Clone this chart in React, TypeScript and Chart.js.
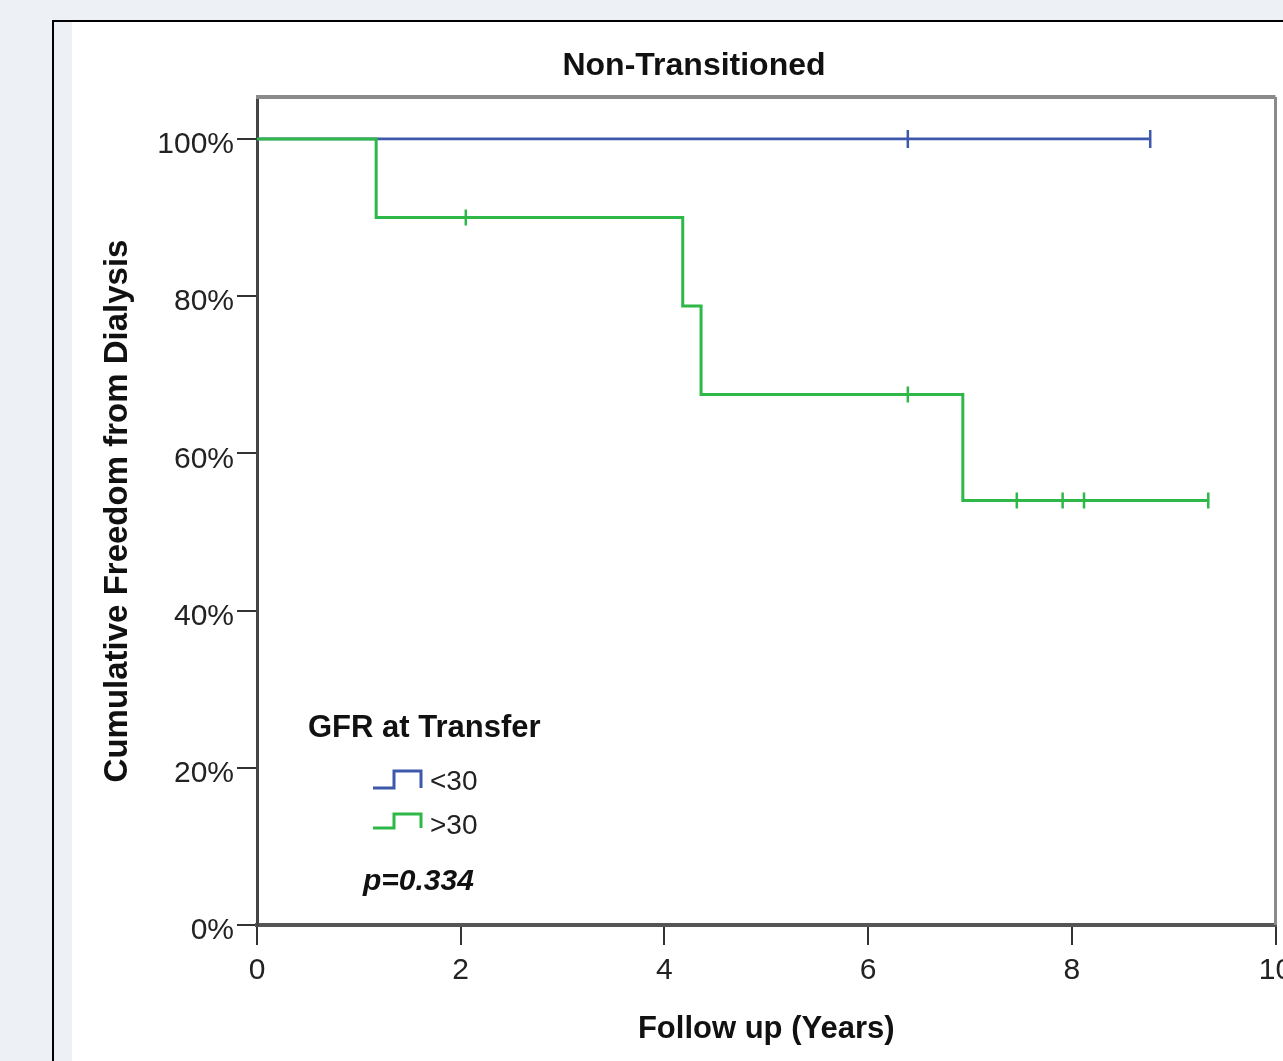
import React, { useEffect, useRef } from "react";
import { Chart, registerables } from "chart.js";

Chart.register(...registerables);

// ---- Data ----
const chartTitle = "Non-Transitioned";
const xAxisTitle = "Follow up (Years)";
const yAxisTitle = "Cumulative Freedom from Dialysis";
const legendTitle = "GFR at Transfer";
const pValueText = "p=0.334";
const seriesLabels = ["<30", ">30"];
const seriesColors = ["#3E58AC", "#2EB848"];

// Kaplan–Meier step points (time in years, survival %)
const lowTimes = [0, 8.77];
const lowSurv = [100, 100];
const highTimes = [0, 1.17, 4.18, 4.36, 6.93, 9.34];
const highSurv = [100, 90, 78.75, 67.5, 54, 54];

// Censored observations
const lowCensorTimes = [6.39, 8.77];
const lowCensorSurv = [100, 100];
const highCensorTimes = [2.05, 6.39, 7.46, 7.91, 8.12, 9.34];
const highCensorSurv = [90, 67.5, 54, 54, 54, 54];

const xTicks = [0, 2, 4, 6, 8, 10];
const yTicks = [0, 20, 40, 60, 80, 100];

const FONT = "'Liberation Sans', Arial, sans-serif";
const CANVAS_W = 1287;

const pts = (xs: number[], ys: number[]) => xs.map((x, i) => ({ x, y: ys[i] }));

const decorPlugin = {
  id: "decor",
  beforeDraw(chart: any) {
    const ctx = chart.ctx;
    const W = chart.width;
    const H = chart.height;
    ctx.save();
    ctx.fillStyle = "#edf0f5";
    ctx.fillRect(0, 0, W, H);
    ctx.fillStyle = "#ffffff";
    ctx.fillRect(72, 22, W - 72, H - 22);
    ctx.strokeStyle = "#000000";
    ctx.lineWidth = 2;
    ctx.beginPath();
    ctx.moveTo(53, H);
    ctx.lineTo(53, 21);
    ctx.lineTo(W, 21);
    ctx.stroke();
    ctx.restore();
  },
  afterDraw(chart: any) {
    const ctx = chart.ctx;
    const a = chart.chartArea;
    ctx.save();
    // frame top & right
    ctx.strokeStyle = "#8a8a8a";
    ctx.lineWidth = 4;
    ctx.beginPath();
    ctx.moveTo(a.left - 1, a.top);
    ctx.lineTo(a.right, a.top);
    ctx.stroke();
    ctx.lineWidth = 3;
    ctx.beginPath();
    ctx.moveTo(a.right, a.top);
    ctx.lineTo(a.right, a.bottom);
    ctx.stroke();

    // Titles
    ctx.fillStyle = "#111";
    ctx.textBaseline = "middle";
    ctx.textAlign = "center";
    ctx.font = `bold 32px ${FONT}`;
    ctx.fillText(chartTitle, 694, 66);
    ctx.font = `bold 31px ${FONT}`;
    ctx.fillText(xAxisTitle, (a.left + a.right) / 2, 1029);
    ctx.save();
    ctx.translate(118, (a.top + a.bottom) / 2);
    ctx.rotate(-Math.PI / 2);
    ctx.font = `bold 33px ${FONT}`;
    ctx.fillText(yAxisTitle, 0, 0);
    ctx.restore();

    // Legend
    ctx.textAlign = "left";
    ctx.font = `bold 31px ${FONT}`;
    ctx.fillText(legendTitle, 308, 728);
    const rows = [
      { low: 788, high: 771, text: 782 },
      { low: 828, high: 814, text: 826 },
    ];
    rows.forEach((r, i) => {
      ctx.strokeStyle = seriesColors[i];
      ctx.lineWidth = 3;
      ctx.beginPath();
      ctx.moveTo(373, r.low);
      ctx.lineTo(394, r.low);
      ctx.lineTo(394, r.high);
      ctx.lineTo(421, r.high);
      ctx.lineTo(421, r.low);
      ctx.stroke();
      ctx.fillStyle = "#222";
      ctx.font = `28px ${FONT}`;
      ctx.fillText(seriesLabels[i], 430, r.text);
    });
    ctx.fillStyle = "#111";
    ctx.font = `italic bold 30px ${FONT}`;
    ctx.fillText(pValueText, 363, 882);
    ctx.restore();
  },
};

export default function App() {
  const ref = useRef<HTMLCanvasElement>(null);

  useEffect(() => {
    if (!ref.current) return;
    const chart = new Chart(ref.current, {
      type: "line",
      data: {
        datasets: [
          {
            label: seriesLabels[1],
            data: pts(highTimes, highSurv),
            borderColor: seriesColors[1],
            borderWidth: 3,
            stepped: "before",
            pointRadius: 0,
            fill: false,
          },
          {
            label: seriesLabels[0],
            data: pts(lowTimes, lowSurv),
            borderColor: seriesColors[0],
            borderWidth: 2.8,
            stepped: "before",
            pointRadius: 0,
            fill: false,
          },
          {
            label: seriesLabels[1] + " censored",
            data: pts(highCensorTimes, highCensorSurv),
            showLine: false,
            pointStyle: "line",
            rotation: 90,
            pointRadius: 8,
            pointBorderWidth: 2.5,
            borderColor: seriesColors[1],
            backgroundColor: seriesColors[1],
          },
          {
            label: seriesLabels[0] + " censored",
            data: pts(lowCensorTimes, lowCensorSurv),
            showLine: false,
            pointStyle: "line",
            rotation: 90,
            pointRadius: 9,
            pointBorderWidth: 2.5,
            borderColor: seriesColors[0],
            backgroundColor: seriesColors[0],
          },
        ],
      },
      options: {
        responsive: false,
        animation: false,
        devicePixelRatio: 1,
        layout: { padding: { top: 97, right: 0, left: 0, bottom: 0 } },
        plugins: {
          legend: { display: false },
          title: { display: false },
          tooltip: { enabled: false },
        },
        scales: {
          x: {
            type: "linear",
            min: 0,
            max: 10,
            afterBuildTicks: (s: any) => {
              s.ticks = xTicks.map((v) => ({ value: v }));
            },
            afterFit: (s: any) => {
              s.height = 136;
              s.paddingLeft = 0;
              s.paddingRight = 0;
            },
            ticks: {
              font: { family: FONT, size: 30 },
              color: "#222",
              padding: 8,
              maxRotation: 0,
              autoSkip: false,
            },
            grid: {
              drawOnChartArea: false,
              drawTicks: true,
              tickLength: 20,
              color: "#333",
              lineWidth: 2,
            },
            border: { display: true, color: "#555", width: 4 },
          },
          y: {
            type: "linear",
            min: 0,
            max: 105.34,
            afterBuildTicks: (s: any) => {
              s.ticks = yTicks.map((v) => ({ value: v }));
            },
            afterFit: (s: any) => {
              s.width = 257;
              s.paddingTop = 0;
              s.paddingBottom = 0;
            },
            ticks: {
              font: { family: FONT, size: 30 },
              color: "#222",
              padding: 3,
              labelOffset: 6,
              autoSkip: false,
              callback: (v: any) => `${v}%`,
            },
            grid: {
              drawOnChartArea: false,
              drawTicks: true,
              tickLength: 20,
              color: "#333",
              lineWidth: 2,
            },
            border: { display: true, color: "#444", width: 3 },
          },
        },
      },
      plugins: [decorPlugin],
    });
    return () => chart.destroy();
  }, []);

  return (
    <div style={{ position: "fixed", left: 0, top: 0, width: 1283, height: 1061, overflow: "hidden" }}>
      <canvas ref={ref} width={CANVAS_W} height={1061} style={{ display: "block" }} />
    </div>
  );
}
